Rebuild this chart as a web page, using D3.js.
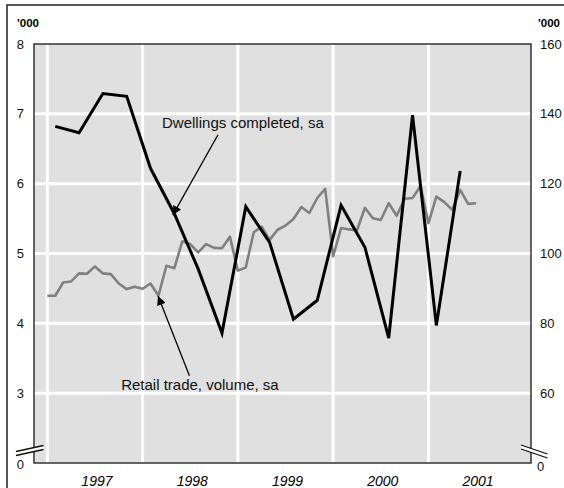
<!DOCTYPE html>
<meta charset="utf-8" />
<script src="https://d3js.org/d3.v7.js"></script>
<style>
  body { margin: 0; background: #fff; }
  text { font-family: Arial, "Liberation Sans", sans-serif; }
</style>
<div id="my_dataviz_div"></div>
<script>
  // data: retail is monthly from Jan 1997, dwellings quarterly (plotted at mid-quarter month)
  const retailStartMonth = 0; // Jan 1997
  const retailVolume = [
    87.9, 87.9, 91.7, 92.0, 94.3, 94.2, 96.3, 94.3, 94.1, 91.4, 89.8, 90.5,
    89.9, 91.4, 87.9, 96.5, 95.8, 103.5, 102.7, 100.3, 102.7, 101.6, 101.5, 104.8,
    95.1, 96.0, 106.1, 107.7, 103.9, 106.8, 108.0, 109.9, 113.3, 111.6, 115.9, 118.5,
    99.2, 107.3, 106.9, 106.6, 113.1, 110.1, 109.6, 114.4, 110.8, 115.7, 115.9, 119.3,
    108.7, 116.3, 114.7, 112.5, 118.2, 114.2, 114.4
  ];
  const dwellingsStartMonth = 1; // Feb 1997, then every 3 months
  const dwellingsCompleted = [
    6.82, 6.73, 7.29, 7.25, 6.22, 5.57, 4.78, 3.86, 5.67,
    5.16, 4.06, 4.33, 5.69, 5.09, 3.79, 6.98, 3.97, 6.18
  ];
  const years = ["1997", "1998", "1999", "2000", "2001"];
  const leftTicks = [3, 4, 5, 6, 7, 8];
  const rightTicks = [60, 80, 100, 120, 140, 160];

  const width = 564;
  const height = 488;
  const plot = { left: 34, right: 531, top: 44, bottom: 463 };

  const svg = d3
    .select("#my_dataviz_div")
    .append("svg")
    .attr("width", width)
    .attr("height", height);

  // month index scale (0 = Jan 1997)
  const x = d3.scaleLinear().domain([-1.675, 60.92]).range([plot.left, plot.right]);
  const yL = d3.scaleLinear().domain([2, 8]).range([plot.bottom, plot.top]);
  const yR = d3.scaleLinear().domain([40, 160]).range([plot.bottom, plot.top]);

  // outer frame (runs past the picture on the right and bottom)
  svg
    .append("rect")
    .attr("x", 7)
    .attr("y", 5)
    .attr("width", 700)
    .attr("height", 700)
    .attr("fill", "none")
    .attr("stroke", "#222")
    .attr("stroke-width", 1.5);

  // plot background
  svg
    .append("rect")
    .attr("x", plot.left)
    .attr("y", plot.top)
    .attr("width", plot.right - plot.left)
    .attr("height", plot.bottom - plot.top)
    .attr("fill", "#e0e0e0");

  // gridlines
  const grid = svg.append("g").attr("stroke", "#fff").attr("stroke-width", 3);
  grid
    .selectAll("line.h")
    .data([3, 4, 5, 6, 7])
    .enter()
    .append("line")
    .attr("x1", plot.left)
    .attr("x2", plot.right)
    .attr("y1", (d) => yL(d))
    .attr("y2", (d) => yL(d));
  grid
    .selectAll("line.v")
    .data(years.map((d, i) => i * 12))
    .enter()
    .append("line")
    .attr("x1", (d) => x(d))
    .attr("x2", (d) => x(d))
    .attr("y1", plot.top)
    .attr("y2", plot.bottom);

  // plot border
  svg
    .append("rect")
    .attr("x", plot.left)
    .attr("y", plot.top)
    .attr("width", plot.right - plot.left)
    .attr("height", plot.bottom - plot.top)
    .attr("fill", "none")
    .attr("stroke", "#333")
    .attr("stroke-width", 1.5);

  // series
  const retailLine = d3
    .line()
    .x((d, i) => x(retailStartMonth + i))
    .y((d) => yR(d));
  svg
    .append("path")
    .datum(retailVolume)
    .attr("d", retailLine)
    .attr("fill", "none")
    .attr("stroke", "#808080")
    .attr("stroke-width", 2.6)
    .attr("stroke-linejoin", "round");

  const dwellLine = d3
    .line()
    .x((d, i) => x(dwellingsStartMonth + i * 3))
    .y((d) => yL(d));
  svg
    .append("path")
    .datum(dwellingsCompleted)
    .attr("d", dwellLine)
    .attr("fill", "none")
    .attr("stroke", "#000")
    .attr("stroke-width", 3)
    .attr("stroke-linejoin", "miter");

  // axis breaks
  function axisBreak(x1, y1, x2, y2) {
    svg
      .append("polygon")
      .attr("points", [[x1, y1], [x2, y2], [x2, y2 + 4], [x1, y1 + 4]].join(" "))
      .attr("fill", "#fff");
    [0, 4].forEach(function (off) {
      svg
        .append("line")
        .attr("x1", x1)
        .attr("y1", y1 + off)
        .attr("x2", x2)
        .attr("y2", y2 + off)
        .attr("stroke", "#111")
        .attr("stroke-width", 1.3);
    });
  }
  axisBreak(16, 451.5, 43.5, 445.5);
  axisBreak(521, 445, 547.5, 454);

  // tick labels
  const labels = svg.append("g").style("font-size", "13px").attr("fill", "#111");
  labels
    .selectAll("text.l")
    .data(leftTicks)
    .enter()
    .append("text")
    .attr("x", 24)
    .attr("y", (d) => yL(d))
    .attr("dy", "0.35em")
    .attr("text-anchor", "end")
    .text((d) => d);
  labels
    .append("text")
    .attr("x", 24)
    .attr("y", plot.bottom + 1)
    .attr("dy", "0.35em")
    .attr("text-anchor", "end")
    .text("0");
  labels
    .selectAll("text.r")
    .data(rightTicks)
    .enter()
    .append("text")
    .attr("x", 540)
    .attr("y", (d) => yR(d))
    .attr("dy", "0.35em")
    .text((d) => d);
  labels
    .append("text")
    .attr("x", 537)
    .attr("y", plot.bottom + 3)
    .attr("dy", "0.35em")
    .text("0");

  // units
  svg
    .append("text")
    .attr("x", 17)
    .attr("y", 27)
    .style("font-size", "11.5px")
    .style("font-weight", "bold")
    .text("'000");
  svg
    .append("text")
    .attr("x", 538)
    .attr("y", 27)
    .style("font-size", "11.5px")
    .style("font-weight", "bold")
    .text("'000");

  // year labels, centred in each year
  svg
    .selectAll("text.year")
    .data(years)
    .enter()
    .append("text")
    .attr("x", (d, i) => x(i * 12 + 6) + 2)
    .attr("y", 486)
    .attr("text-anchor", "middle")
    .style("font-size", "14px")
    .style("font-style", "italic")
    .text((d) => d);

  // annotations (month, value on left axis)
  svg
    .append("defs")
    .append("marker")
    .attr("id", "arrow")
    .attr("viewBox", "0 0 10 10")
    .attr("refX", 10)
    .attr("refY", 5)
    .attr("markerWidth", 11)
    .attr("markerHeight", 9)
    .attr("markerUnits", "userSpaceOnUse")
    .attr("orient", "auto")
    .append("path")
    .attr("d", "M0,0L10,5L0,10z")
    .attr("fill", "#000");

  const notes = [
    { text: "Dwellings completed, sa", tx: 14.45, ty: 6.8, from: [21.5, 6.7], to: [15.8, 5.55] },
    { text: "Retail trade, volume, sa", tx: 9.3, ty: 3.045, from: [17.9, 3.25], to: [13.95, 4.39] }
  ];
  notes.forEach(function (n) {
    svg
      .append("text")
      .attr("x", x(n.tx))
      .attr("y", yL(n.ty))
      .style("font-size", "15px")
      .attr("fill", "#111")
      .text(n.text);
    svg
      .append("line")
      .attr("x1", x(n.from[0]))
      .attr("y1", yL(n.from[1]))
      .attr("x2", x(n.to[0]))
      .attr("y2", yL(n.to[1]))
      .attr("stroke", "#000")
      .attr("stroke-width", 1.3)
      .attr("marker-end", "url(#arrow)");
  });
</script>
